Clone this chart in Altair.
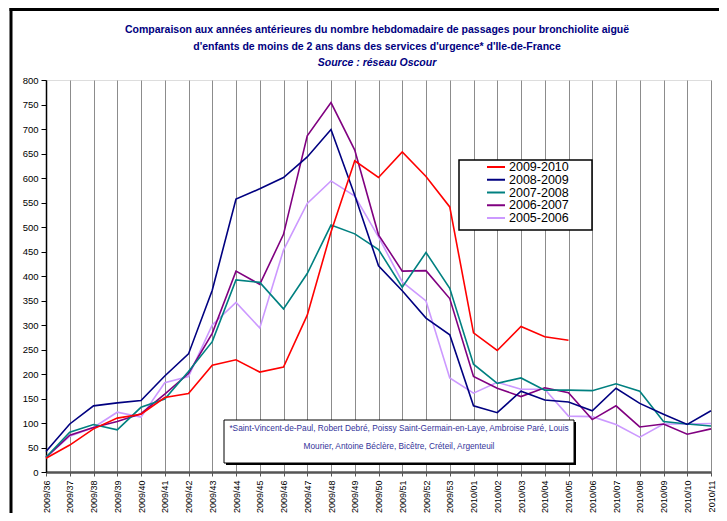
import altair as alt
import pandas as pd

weeks = ["2009/36", "2009/37", "2009/38", "2009/39", "2009/40", "2009/41", "2009/42",
         "2009/43", "2009/44", "2009/45", "2009/46", "2009/47", "2009/48", "2009/49",
         "2009/50", "2009/51", "2009/52", "2009/53", "2010/01", "2010/02", "2010/03",
         "2010/04", "2010/05", "2010/06", "2010/07", "2010/08", "2010/09", "2010/10",
         "2010/11"]

s_2009_2010 = [28, 55, 88, 110, 118, 152, 160, 218, 229, 204, 214, 320, 490, 635,
               601, 653, 603, 541, 284, 248, 297, 276, 269]
s_2008_2009 = [42, 98, 135, 141, 146, 196, 241, 371, 557, 578, 601, 643, 699, 565,
               421, 370, 314, 280, 135, 121, 165, 147, 143, 125, 171, 140, 118, 97, 125]
s_2007_2008 = [30, 81, 97, 86, 132, 149, 205, 266, 392, 387, 333, 405, 504, 486,
               454, 377, 448, 375, 220, 181, 192, 167, 167, 166, 180, 165, 103, 98, 94]
s_2006_2007 = [30, 75, 91, 103, 119, 159, 201, 283, 410, 383, 485, 686, 754, 657,
               484, 410, 411, 354, 195, 171, 154, 172, 162, 107, 135, 92, 98, 77, 88]
s_2005_2006 = [30, 73, 91, 122, 112, 182, 195, 300, 346, 294, 453, 548, 594, 563,
               480, 388, 349, 192, 161, 183, 169, 169, 114, 113, 97, 71, 98, 98, 99]

seasons = ["2009-2010", "2008-2009", "2007-2008", "2006-2007", "2005-2006"]
colors = ["#FF0000", "#000080", "#008080", "#800080", "#CC99FF"]

title_l1 = "Comparaison aux années antérieures du nombre hebdomadaire de passages pour bronchiolite aiguë"
title_l2 = "d'enfants de moins de 2 ans dans des services d'urgence* d'Ile-de-France"
title_l3 = "Source : réseau Oscour"
note_l1 = "*Saint-Vincent-de-Paul, Robert Debré, Poissy Saint-Germain-en-Laye, Ambroise Paré, Louis"
note_l2 = "Mourier, Antoine Béclère, Bicêtre, Créteil, Argenteuil"

series = {
    "2005-2006": s_2005_2006,
    "2006-2007": s_2006_2007,
    "2007-2008": s_2007_2008,
    "2008-2009": s_2008_2009,
    "2009-2010": s_2009_2010,
}
rows = []
for name, vals in series.items():
    for w, v in zip(weeks, vals):
        rows.append({"semaine": w, "passages": v, "saison": name})
df = pd.DataFrame(rows)
legend_df = pd.DataFrame({"saison": seasons})

FONT = "Liberation Sans"
W, H = 665, 392

color_scale = alt.Scale(domain=seasons, range=colors)

x_enc = alt.X("semaine:N", sort=weeks,
              scale=alt.Scale(type="point", padding=0, domain=weeks),
              axis=alt.Axis(title=None, labelAngle=270, labelFontSize=9, labelColor="#000",
                            labelFont=FONT, grid=True, gridColor="#8c8c8c", gridWidth=1,
                            domainColor="#555555", domainWidth=2.5, tickColor="#555555",
                            tickSize=4, labelPadding=4))
y_enc = alt.Y("passages:Q", scale=alt.Scale(domain=[0, 800], nice=False),
              axis=alt.Axis(title=None, values=list(range(0, 801, 50)), grid=False,
                            labelFontSize=9.5, labelFont=FONT, labelColor="#000",
                            domainColor="#000", domainWidth=1.5, tickColor="#000",
                            tickSize=5, labelPadding=3))

lines = alt.Chart(df).mark_line(strokeWidth=1.6).encode(
    x=x_enc, y=y_enc,
    color=alt.Color("saison:N", scale=color_scale, legend=None),
)

frame_df = pd.DataFrame({"k": [0]})
legend_box = alt.Chart(frame_df).mark_rect(fill="white", stroke="#000", strokeWidth=1.5).encode(
    x=alt.value(413), x2=alt.value(546), y=alt.value(80), y2=alt.value(150))

leg_y = alt.Y("saison:N", scale=alt.Scale(type="point", domain=seasons, range=[87, 138],
                                          padding=0), axis=None)
legend_sym = alt.Chart(legend_df).mark_rule(strokeWidth=2).encode(
    x=alt.value(441), x2=alt.value(459), y=leg_y,
    color=alt.Color("saison:N", scale=color_scale, legend=None))
legend_txt = alt.Chart(legend_df).mark_text(
    font=FONT, fontSize=12.5, color="#000", align="left", baseline="middle").encode(
    x=alt.value(463), y=leg_y, text="saison:N")
legend_layer = alt.layer(legend_sym, legend_txt)

note_shadow = alt.Chart(frame_df).mark_rect(fill="#000").encode(
    x=alt.value(180), x2=alt.value(530), y=alt.value(342), y2=alt.value(385))
note_box = alt.Chart(frame_df).mark_rect(fill="white", stroke="#000", strokeWidth=1).encode(
    x=alt.value(178), x2=alt.value(528), y=alt.value(340), y2=alt.value(383))
note_text = alt.Chart(frame_df).mark_text(
    font=FONT, fontSize=8.3, color="#333399", align="center", baseline="top",
    lineHeight=18, text=[note_l1, note_l2]).encode(x=alt.value(353), y=alt.value(344))

title_a = alt.Chart(frame_df).mark_text(
    font=FONT, fontSize=10.5, fontWeight="bold", color="#000080", align="center",
    baseline="middle", lineHeight=16.5, text=[title_l1, title_l2]).encode(
    x=alt.value(331), y=alt.value(-50))
title_b = alt.Chart(frame_df).mark_text(
    font=FONT, fontSize=10.5, fontWeight="bold", fontStyle="italic", color="#000080",
    align="center", baseline="middle", text=title_l3).encode(
    x=alt.value(331), y=alt.value(-17.5))

frame_left = alt.Chart(frame_df).mark_rule(color="#000", strokeWidth=3).encode(
    x=alt.value(-35), y=alt.value(-72), y2=alt.value(470))
frame_top = alt.Chart(frame_df).mark_rule(color="#000", strokeWidth=3).encode(
    x=alt.value(-36.5), x2=alt.value(700), y=alt.value(-70.5))

chart = alt.layer(frame_left, frame_top, title_a, title_b, lines, legend_box,
                  legend_layer, note_shadow, note_box, note_text).resolve_scale(
    y="independent").properties(
    width=W, height=H,
    autosize=alt.AutoSizeParams(type="none"),
    padding={"left": 38, "top": 72, "right": 8, "bottom": 41},
).configure_view(stroke="#a0a0a0", strokeWidth=1).configure(background="white")

chart.save("out.html", embed_options={"renderer": "svg", "actions": False})
